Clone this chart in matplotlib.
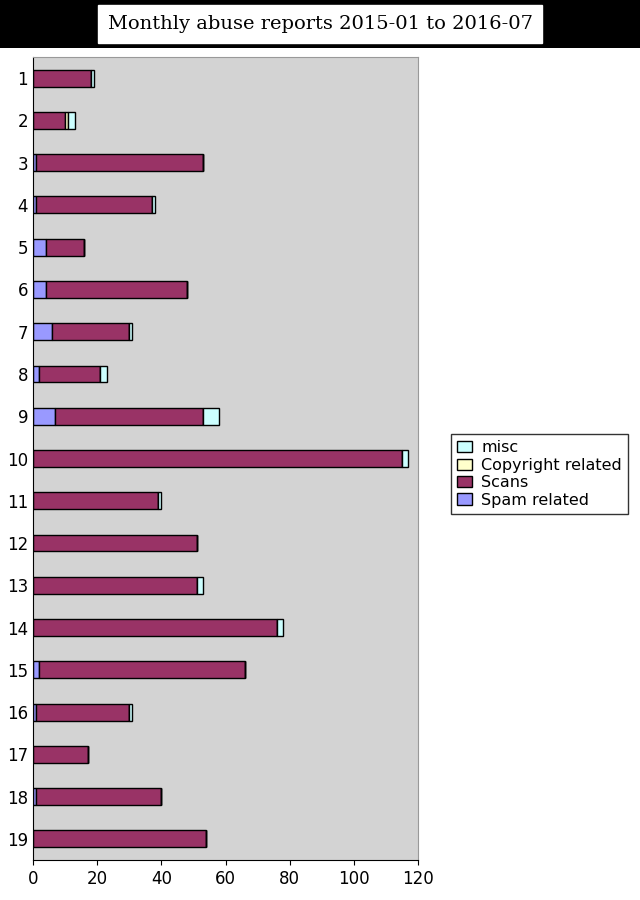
import matplotlib
matplotlib.use("Agg")
import matplotlib.pyplot as plt
import numpy as np

months = [str(i) for i in range(1, 20)]
spam = [0, 0, 1, 1, 4, 4, 6, 2, 7, 0, 0, 0, 0, 0, 2, 1, 0, 1, 0]
scans = [18, 10, 52, 36, 12, 44, 24, 19, 46, 115, 39, 51, 51, 76, 64, 29, 17, 39, 54]
copyright_ = [0, 1, 0, 0, 0, 0, 0, 0, 0, 0, 0, 0, 0, 0, 0, 0, 0, 0, 0]
misc = [1, 2, 0, 1, 0, 0, 1, 2, 5, 2, 1, 0, 2, 2, 0, 1, 0, 0, 0]

fig = plt.figure(figsize=(6.4, 9.0), dpi=100)
fig.patch.set_facecolor("white")
band = fig.add_axes([0, 1 - 48/900, 1, 48/900])
band.set_facecolor("black")
band.set_xticks([]); band.set_yticks([])
for s in band.spines.values():
    s.set_visible(False)
band.text(0.5, 0.5, "Monthly abuse reports 2015-01 to 2016-07", ha="center", va="center",
          fontsize=14, family="DejaVu Serif", color="black",
          bbox=dict(facecolor="white", edgecolor="white", pad=7))

ax = fig.add_axes([33/640, 1 - 860/900, (418-33)/640, (860-57)/900])
ax.set_facecolor("#d3d3d3")
y = np.arange(len(months))
h = 0.4
kw = dict(height=h, edgecolor="black", linewidth=1)
left = np.zeros(len(months))
b1 = ax.barh(y, spam, left=left, color="#9999ff", label="Spam related", **kw)
left += spam
b2 = ax.barh(y, scans, left=left, color="#993366", label="Scans", **kw)
left += scans
b3 = ax.barh(y, copyright_, left=left, color="#ffffcc", label="Copyright related", **kw)
left += copyright_
b4 = ax.barh(y, misc, left=left, color="#ccffff", label="misc", **kw)

ax.set_yticks(y)
ax.set_yticklabels(months, fontsize=12)
ax.set_ylim(len(months) - 0.5, -0.5)
ax.set_xlim(0, 120)
ax.set_xticks(range(0, 121, 20))
ax.tick_params(axis="x", labelsize=12)
ax.tick_params(axis="y", length=0)
for s in ["top", "right"]:
    ax.spines[s].set_color("#999999")

fig.legend(handles=[b4, b3, b2, b1], labels=["misc", "Copyright related", "Scans", "Spam related"],
           loc="center left", bbox_to_anchor=(443/640, 1 - 474/900), fontsize=11.5,
           frameon=True, fancybox=False, edgecolor="black", handlelength=0.9,
           handletextpad=0.6, borderpad=0.4, labelspacing=0.15)
fig.savefig("out.png", dpi=100)
